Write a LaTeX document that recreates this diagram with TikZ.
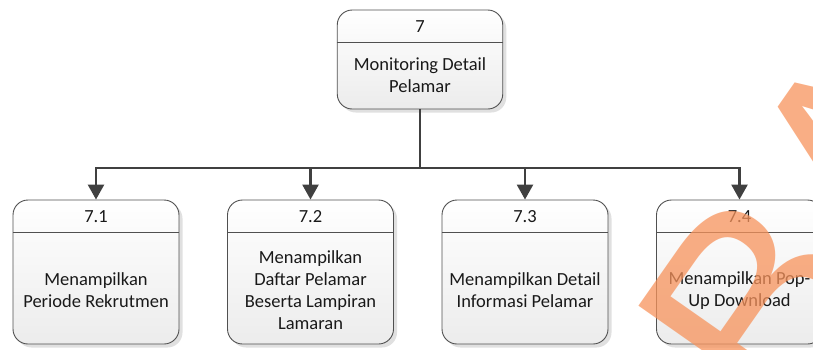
\documentclass[tikz,border=0pt]{standalone}
\usepackage{fontspec}
\setmainfont{Carlito}
\newfontfamily\wmfont{Liberation Sans}
\usetikzlibrary{arrows.meta,calc,shadows}
\definecolor{boxline}{HTML}{505050}
\definecolor{boxfill}{HTML}{ECECEC}
\definecolor{connline}{HTML}{404040}
\definecolor{stamp}{HTML}{F7935C}
\begin{document}
\begin{tikzpicture}[x=1pt,y=-1pt,
  procbox/.style={draw=boxline, line width=0.9pt, rounded corners=15pt,
    top color=white, bottom color=boxfill, inner sep=0pt,
    drop shadow={shadow xshift=3.5pt, shadow yshift=-3.5pt, fill=black!12, opacity=1}},
  smallbox/.style={procbox, minimum width=166pt, minimum height=144pt},
  topbox/.style={procbox, minimum width=165.5pt, minimum height=99pt},
  divider/.style={draw=boxline, line width=0.9pt},
  numlabel/.style={font=\fontsize{18.5}{22}\selectfont, text=black!90, inner sep=0pt},
  bodylabel/.style={font=\fontsize{18.5}{22}\selectfont, text=black!90, align=center, inner sep=0pt},
  conn/.style={draw=connline, line width=2.6pt},
  connarrow/.style={conn, -{Triangle[width=16pt,length=15pt]}},
  watermark/.style={font=\wmfont\fontsize{280}{280}\selectfont, text=stamp, text opacity=0.75, rotate=55, inner sep=0pt, anchor=base west}
]
\useasboundingbox (0,0) rectangle (813,349);

% parent process
\node[topbox] (p7) at (420,59.5) {};
\draw[divider] ($(p7.north west)+(0,33)$) -- ($(p7.north east)+(0,33)$);
\node[numlabel] (p7n) at ($(p7.north)+(0,17)$) {7};
\node[bodylabel] (p7t) at ($(p7.north)+(0,66)$) {Monitoring Detail\\Pelamar};

% child processes
\node[smallbox] (p71) at (96,272) {};
\node[smallbox] (p72) at (310.5,272) {};
\node[smallbox] (p73) at (525,272) {};
\node[smallbox] (p74) at (739.5,272) {};

\foreach \p/\n in {p71/7.1, p72/7.2, p73/7.3, p74/7.4}{
  \draw[divider] ($(\p.north west)+(0,33)$) -- ($(\p.north east)+(0,33)$);
  \node[numlabel] (\p n) at ($(\p.north)+(0,17)$) {\n};
}
\node[bodylabel] (p71t) at ($(p71.north)+(0,91)$) {Menampilkan\\Periode Rekrutmen};
\node[bodylabel] (p72t) at ($(p72.north)+(0,91)$) {Menampilkan\\Daftar Pelamar\\Beserta Lampiran\\Lamaran};
\node[bodylabel] (p73t) at ($(p73.north)+(0,91)$) {Menampilkan Detail\\Informasi Pelamar};
\node[bodylabel] (p74t) at ($(p74.north)+(0,91)$) {Menampilkan Pop-\\Up Download};

% connectors
\coordinate (bus) at (420,168);
\draw[conn] (p7.south) -- (bus);
\foreach \p in {p71,p72,p73,p74}{
  \draw[connarrow] (bus) -| (\p.north);
}

% stamp
\node[watermark] (stampmark) at (783,436) {BA};
\end{tikzpicture}
\end{document}
